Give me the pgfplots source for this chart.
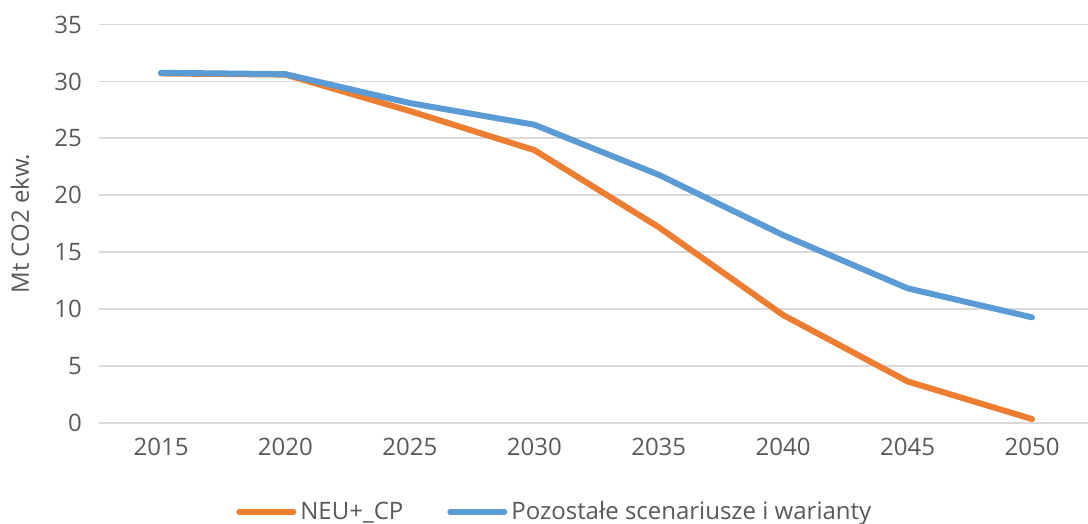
\documentclass[border=0pt]{standalone}
\usepackage{pgfplots}
\pgfplotsset{compat=1.18}
\usepackage{fontspec}
\setmainfont{Open Sans}
\definecolor{txt}{HTML}{595959}
\definecolor{gridc}{HTML}{D9D9D9}
\definecolor{cor}{HTML}{ED7D31}
\definecolor{cbl}{HTML}{5B9BD5}
\begin{document}
\begin{tikzpicture}
\useasboundingbox (-49.4pt,-50.5pt) rectangle (494.6pt,211.5pt);
\begin{axis}[
  scale only axis,
  width=494.6pt, height=199.25pt,
  xmin=-0.5, xmax=7.45,
  ymin=0, ymax=35,
  ytick={0,5,...,35},
  xtick={0,...,7},
  xticklabels={2015,2020,2025,2030,2035,2040,2045,2050},
  axis line style={draw=none},
  tick style={draw=none},
  ymajorgrids=true, xmajorgrids=false,
  major grid style={draw=gridc, line width=0.9pt},
  tick label style={font=\fontsize{12}{14}\selectfont, text=txt},
  /pgf/number format/assume math mode=true,
  yticklabel style={xshift=-5pt},
  xticklabel style={yshift=-4pt},
  ylabel={Mt CO2 ekw.},
  every axis y label/.style={at={(rel axis cs:0,0.5)}, xshift=-39.4pt, rotate=90, anchor=center,
    font=\fontsize{12}{14}\selectfont, text=txt},
  legend style={at={(0.462,-0.223)}, anchor=center, draw=none, legend columns=2,
    font=\fontsize{12}{14}\selectfont, text=txt,
    /tikz/every even column/.append style={column sep=20pt}},
  legend image code/.code={\draw[#1, line cap=round] (0pt,0pt) -- (27pt,0pt);},
  clip=false,
]
\addplot[cor, line width=3pt, line cap=round, line join=round] coordinates {
  (0,30.7) (1,30.6) (2,27.4) (3,23.97) (4,17.2) (5,9.48) (6,3.65) (7,0.35)};
\addlegendentry{NEU+\_CP}
\addplot[cbl, line width=3pt, line cap=round, line join=round] coordinates {
  (0,30.76) (1,30.64) (2,28.1) (3,26.2) (4,21.8) (5,16.5) (6,11.83) (7,9.28)};
\addlegendentry{Pozostałe scenariusze i warianty}
\end{axis}
\end{tikzpicture}
\end{document}
